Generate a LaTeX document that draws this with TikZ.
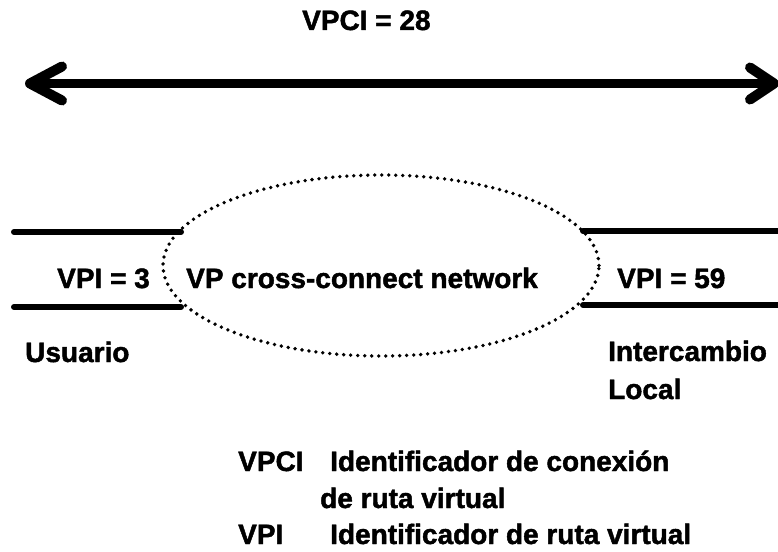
\documentclass[tikz,border=0pt]{standalone}
\usepackage{fontspec}
\setmainfont{Liberation Sans}[BoldFeatures={FakeBold=1.6}]
\usetikzlibrary{shapes.geometric}
\begin{document}
\begin{tikzpicture}[x=1pt,y=-1pt,
  lbl/.style={inner sep=0pt,anchor=base west,font=\fontsize{28}{34}\selectfont\bfseries},
  thickline/.style={line width=6pt,line cap=round},
  arrowline/.style={line width=9pt},
  chevron/.style={line width=10pt,line cap=round,line join=round},
  dotline/.style={line width=3.8pt,line cap=round,dash pattern=on 0pt off 7pt}]
\useasboundingbox[fill=white] (0,0) rectangle (778,551);
% top label and double arrow
\node[lbl] (vpci) at (302,30) {VPCI = 28};
\coordinate (aL) at (30,83.5);
\coordinate (aR) at (774,83.5);
\draw[arrowline] (aL) -- (aR);
\draw[chevron] ([shift={(32,-17)}]aL) -- (aL) -- ([shift={(32,17)}]aL);
\draw[chevron] ([shift={(-24,-16)}]aR) -- (aR) -- ([shift={(-24,16)}]aR);
% ellipse
\node[ellipse,minimum width=436pt,minimum height=181pt,inner sep=0pt,dotline,draw] (net) at (381,265.5) {};
% lines
\coordinate (l1a) at (14,232); \coordinate (l1b) at (181,232);
\coordinate (l2a) at (14,307); \coordinate (l2b) at (181,307);
\coordinate (r1a) at (583,231); \coordinate (r1b) at (780,231);
\coordinate (r2a) at (583,305); \coordinate (r2b) at (780,305);
\draw[thickline] (l1a) -- (l1b);
\draw[thickline] (l2a) -- (l2b);
\draw[thickline] (r1a) -- (r1b);
\draw[thickline] (r2a) -- (r2b);
% labels
\node[lbl] (vpi3) at (57,288) {VPI = 3};
\node[lbl] (vpcc) at (186,288) {VP cross-connect network};
\node[lbl] (vpi59) at (617,288) {VPI = 59};
\node[lbl] (usu) at (25,362) {Usuario};
\node[lbl] (inter) at (608,361) {Intercambio};
\node[lbl] (local) at (608,399) {Local};
% legend
\node[lbl] (k1) at (238,471) {VPCI};
\node[lbl] (d1) at (330,471) {Identificador de conexión};
\node[lbl] (d1b) at (320,508) {de ruta virtual};
\node[lbl] (k2) at (238,544) {VPI};
\node[lbl] (d2) at (330,544) {Identificador de ruta virtual};
\end{tikzpicture}
\end{document}
